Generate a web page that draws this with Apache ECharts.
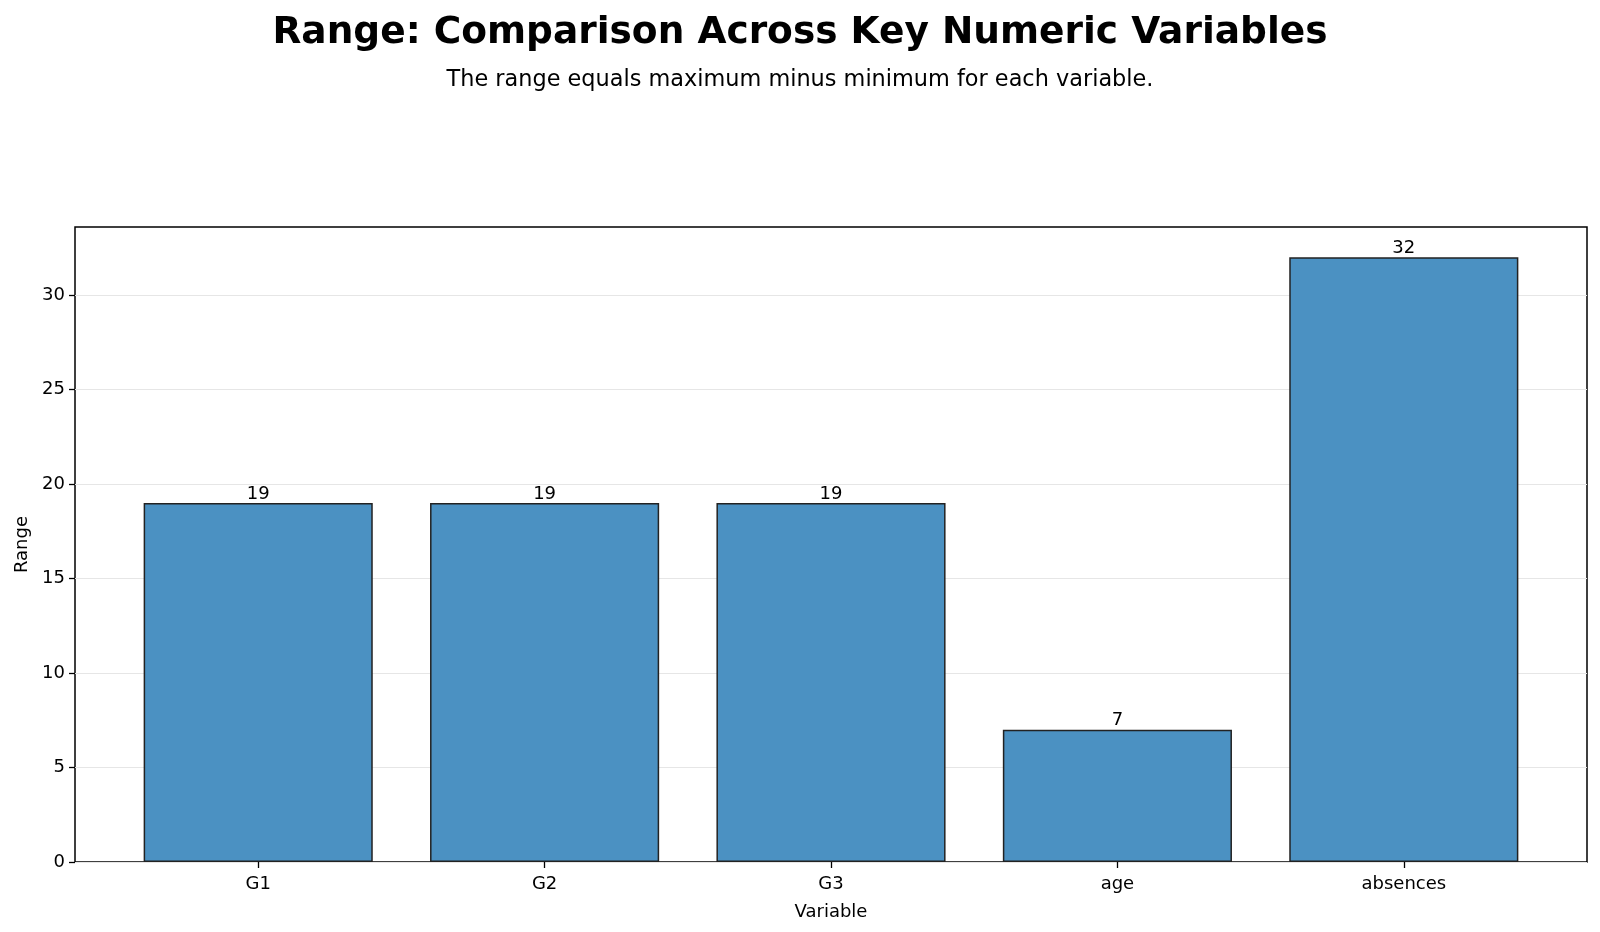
<!DOCTYPE html>
<html>
<head>
<meta charset="utf-8">
<script src="https://cdn.jsdelivr.net/npm/echarts@6/dist/echarts.min.js"></script>
<style>
  html, body { margin: 0; padding: 0; background: #fff; }
  #chart { width: 1600px; height: 932px; }
</style>
</head>
<body>
<div id="chart"></div>
<script>
// data
const categories = ["G1", "G2", "G3", "age", "absences"];
const rangeValues = [19, 19, 19, 7, 32];
const yTicks = [0, 5, 10, 15, 20, 25, 30];

const FONT = "DejaVu Sans";
const chart = echarts.init(document.getElementById("chart"));

const option = {
  backgroundColor: "#fff",
  animation: false,
  textStyle: { fontFamily: FONT },
  title: [
    {
      text: "Range: Comparison Across Key Numeric Variables",
      left: "center",
      top: 9,
      textStyle: { fontFamily: FONT, fontSize: 37.5, fontWeight: "bold", color: "#000" }
    },
    {
      text: "The range equals maximum minus minimum for each variable.",
      left: "center",
      top: 64,
      textStyle: { fontFamily: FONT, fontSize: 22.4, fontWeight: "normal", color: "#000" }
    }
  ],
  // grid 0 = the frame + y scale, grid 1 = the bars (matplotlib-like x margins)
  grid: [
    { left: 75, right: 13, top: 227, bottom: 70, show: true, borderColor: "#000", borderWidth: 1.5, backgroundColor: "transparent" },
    { left: 115, right: 53, top: 227, bottom: 70 }
  ],
  xAxis: [
    { type: "value", gridIndex: 0, show: false, min: 0, max: 1 },
    {
      type: "category",
      gridIndex: 1,
      data: categories,
      axisLine: { show: false },
      axisTick: { show: true, alignWithLabel: true, length: 6, lineStyle: { color: "#000", width: 1.3 } },
      axisLabel: { color: "#000", fontSize: 18, margin: 13, fontFamily: FONT },
      name: "Variable",
      nameLocation: "middle",
      nameGap: 41,
      nameTextStyle: { color: "#000", fontSize: 18, fontFamily: FONT }
    }
  ],
  yAxis: [
    {
      type: "value",
      gridIndex: 0,
      min: 0,
      max: 33.6,
      axisLine: { show: false },
      axisTick: { show: true, length: 6, customValues: yTicks, lineStyle: { color: "#000", width: 1.3 } },
      axisLabel: { color: "#000", fontSize: 18, margin: 10, fontFamily: FONT, customValues: yTicks },
      splitLine: { show: true, lineStyle: { color: "#e6e6e6", width: 1 } },
      name: "Range",
      nameLocation: "middle",
      nameRotate: 90,
      nameGap: 44,
      nameTextStyle: { color: "#000", fontSize: 18, fontFamily: FONT }
    },
    { type: "value", gridIndex: 1, min: 0, max: 33.6, show: false }
  ],
  series: [
    {
      type: "bar",
      xAxisIndex: 1,
      yAxisIndex: 1,
      data: rangeValues,
      barWidth: "80%",
      itemStyle: { color: "#4b91c2", borderColor: "#222", borderWidth: 1.5 },
      label: {
        show: true,
        position: "top",
        distance: 0,
        color: "#000",
        fontSize: 18,
        fontFamily: FONT
      }
    }
  ]
};

chart.setOption(option);
</script>
</body>
</html>
